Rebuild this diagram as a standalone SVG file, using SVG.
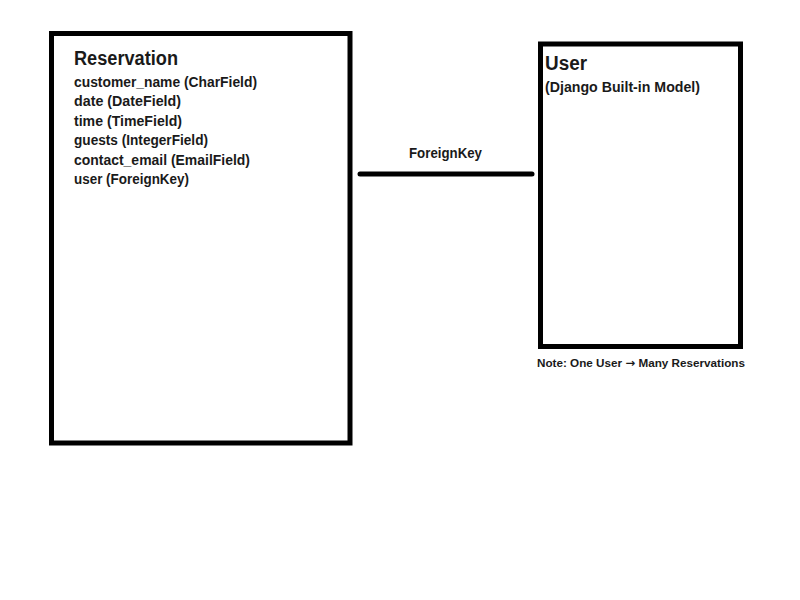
<svg xmlns="http://www.w3.org/2000/svg" width="800" height="600" viewBox="0 0 800 600">
<style>
.box{fill:#fff;stroke:#000;stroke-width:5}
.t{font-family:"Liberation Sans",Arial,sans-serif;font-weight:bold;fill:#1a1a1a}
.title{font-size:20px}
.f{font-size:14.5px}
.note{font-size:11.5px}
.arr{font-family:"DejaVu Sans",sans-serif}
.conn{stroke:#000;stroke-width:5;stroke-linecap:round;fill:none}
</style>
<rect width="800" height="600" fill="#fff"/>
<g id="reservation">
<rect class="box" x="51.5" y="33.5" width="298.5" height="409.5"/>
<text class="t title" x="74" y="65" textLength="104" lengthAdjust="spacingAndGlyphs">Reservation</text>
<text class="t f" x="74" y="86.5" textLength="183" lengthAdjust="spacingAndGlyphs">customer_name (CharField)</text>
<text class="t f" x="74" y="106" textLength="107" lengthAdjust="spacingAndGlyphs">date (DateField)</text>
<text class="t f" x="74" y="125.5" textLength="108" lengthAdjust="spacingAndGlyphs">time (TimeField)</text>
<text class="t f" x="74" y="145" textLength="134" lengthAdjust="spacingAndGlyphs">guests (IntegerField)</text>
<text class="t f" x="74" y="164.5" textLength="176" lengthAdjust="spacingAndGlyphs">contact_email (EmailField)</text>
<text class="t f" x="74" y="184" textLength="115" lengthAdjust="spacingAndGlyphs">user (ForeignKey)</text>
</g>
<g id="user">
<rect class="box" x="540.5" y="44" width="200" height="302.5"/>
<text class="t title" x="545" y="70" textLength="42" lengthAdjust="spacingAndGlyphs">User</text>
<text class="t f" x="545" y="91.5" textLength="155" lengthAdjust="spacingAndGlyphs">(Django Built-in Model)</text>
</g>
<g id="connectors">
<line class="conn" x1="360" y1="174" x2="532" y2="174"/>
<text class="t f" x="409" y="157.5" textLength="73" lengthAdjust="spacingAndGlyphs">ForeignKey</text>
</g>
<g id="note">
<text class="t note" x="537" y="367" textLength="208" lengthAdjust="spacingAndGlyphs">Note: One User <tspan class="arr">→</tspan> Many Reservations</text>
</g>
</svg>
